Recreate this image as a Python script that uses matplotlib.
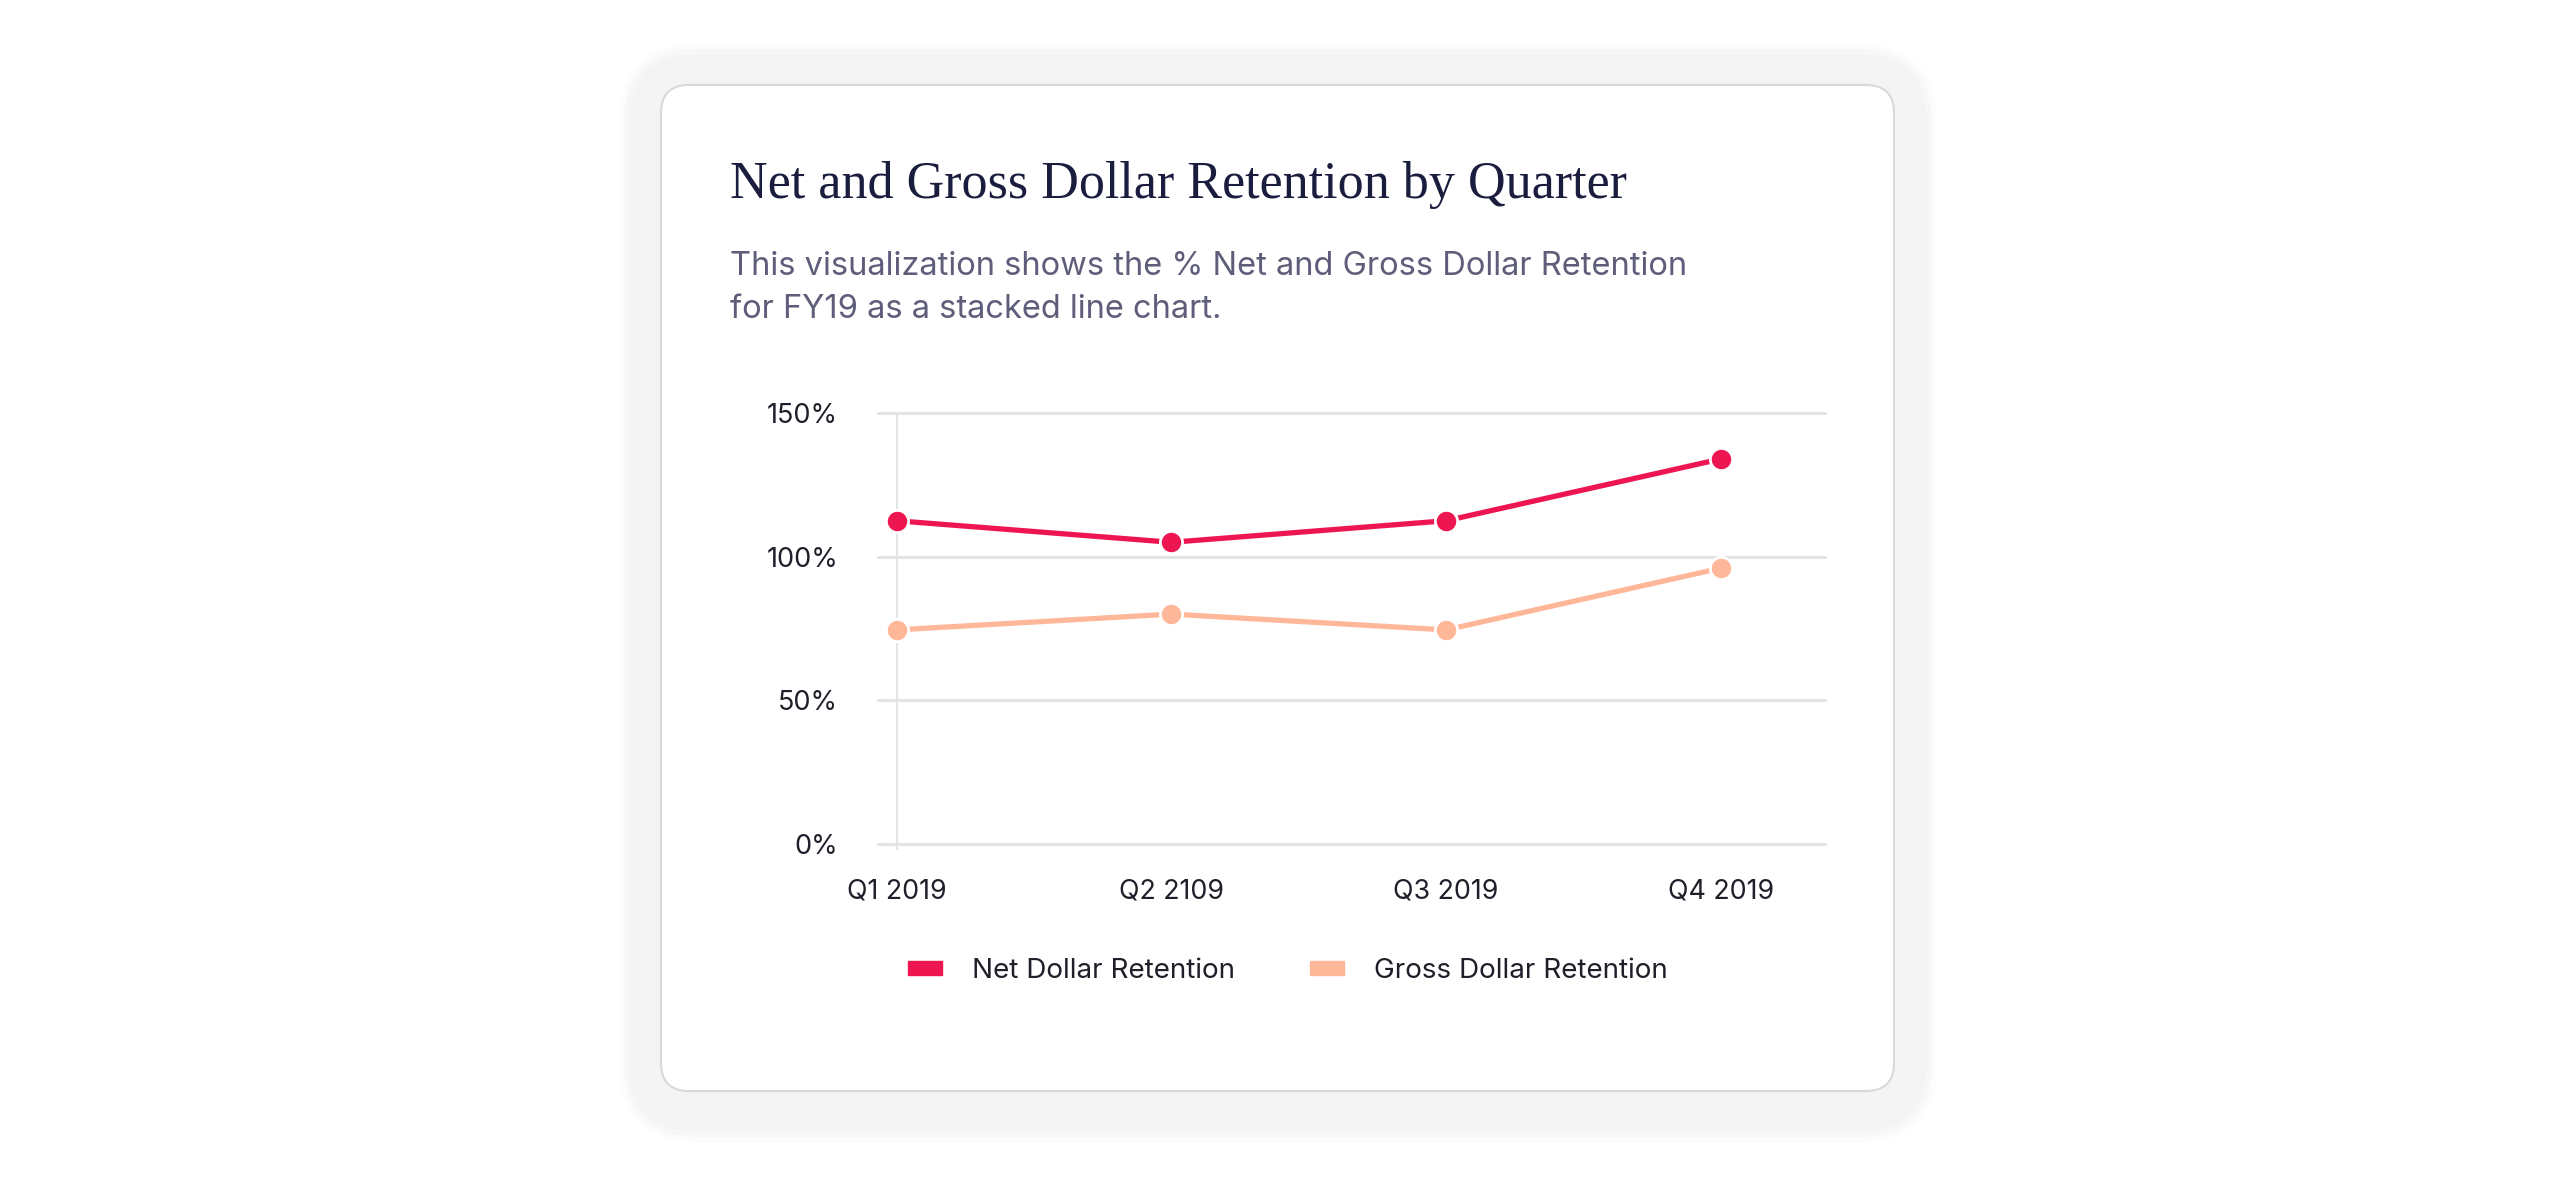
import matplotlib.pyplot as plt
from matplotlib.patches import FancyBboxPatch, Patch

# data
quarters = ['Q1 2019', 'Q2 2109', 'Q3 2019', 'Q4 2019']
net_retention = [112.5, 105, 112.5, 134]
gross_retention = [74.5, 80, 74.5, 96]
y_ticks = [0, 50, 100, 150]
y_tick_labels = ['0%', '50%', '100%', '150%']

net_color = '#EE1650'
gross_color = '#FFB79A'
W, H = 2560, 1186

fig = plt.figure(figsize=(W / 100, H / 100), dpi=100)
fig.patch.set_facecolor('white')

# background card (pixel coordinates)
bg = fig.add_axes([0, 0, 1, 1])
bg.set_xlim(0, W)
bg.set_ylim(H, 0)
bg.axis('off')
for grow, alpha in [(10, 0.25), (5, 0.5), (0, 1.0)]:
    bg.add_patch(FancyBboxPatch((629 - grow, 54 - grow), 1298 + 2 * grow, 1078 + 2 * grow,
                                boxstyle='round,pad=0,rounding_size=%d' % (70 + grow),
                                fc='#f4f4f4', ec='none', alpha=alpha))
bg.add_patch(FancyBboxPatch((661, 85), 1233, 1006,
                            boxstyle='round,pad=0,rounding_size=28',
                            fc='white', ec='#d9d9d9', lw=1.5))

fig.text(730 / W, 1 - 198 / H, 'Net and Gross Dollar Retention by Quarter',
         fontsize=37.5, family='Liberation Serif', color='#1b1d3f', va='baseline')
fig.text(730 / W, 1 - 318 / H,
         'This visualization shows the % Net and Gross Dollar Retention\nfor FY19 as a stacked line chart.',
         fontsize=23.5, family='Inter', color='#5e5e7a', va='baseline', linespacing=1.5)

ax = fig.add_axes([877 / W, 0.2836, (1827 - 877) / W, 0.3730])
ax.set_facecolor('none')
x = list(range(len(quarters)))
ax.plot(x, gross_retention, color=gross_color, lw=3.8, marker='o', ms=16,
        mec='white', mew=2, zorder=3)
ax.plot(x, net_retention, color=net_color, lw=3.8, marker='o', ms=16,
        mec='white', mew=2, zorder=4)

for t in y_ticks:
    ax.axhline(t, color='#e4e4e4', lw=2.2, zorder=1)
ax.vlines(0, -3, 150, color='#e4e4e4', lw=1.5, zorder=1)

ax.set_xlim(-0.071, 3.386)
ax.set_ylim(-2, 152)
ax.set_yticks(y_ticks)
ax.set_yticklabels(y_tick_labels)
ax.set_xticks(x)
ax.set_xticklabels(quarters)
ax.tick_params(axis='y', length=0, pad=28, labelsize=19.5, labelcolor='#1f1f2a')
ax.tick_params(axis='x', length=0, pad=21, labelsize=19.3, labelcolor='#1f1f2a')
for lab in ax.get_xticklabels() + ax.get_yticklabels():
    lab.set_family('Inter')
for s in ax.spines.values():
    s.set_visible(False)

handles = [Patch(color=net_color, label='Net Dollar Retention'),
           Patch(color=gross_color, label='Gross Dollar Retention')]
fig.legend(handles=handles, loc='center', bbox_to_anchor=(1288 / W, 1 - 971 / H),
           ncol=2, frameon=False, prop={'family': 'Inter', 'size': 20},
           handlelength=1.22, handleheight=0.4, columnspacing=2.7, handletextpad=1.08,
           labelcolor='#1f1f2a')

fig.savefig('out.png', dpi=100, facecolor='white')
